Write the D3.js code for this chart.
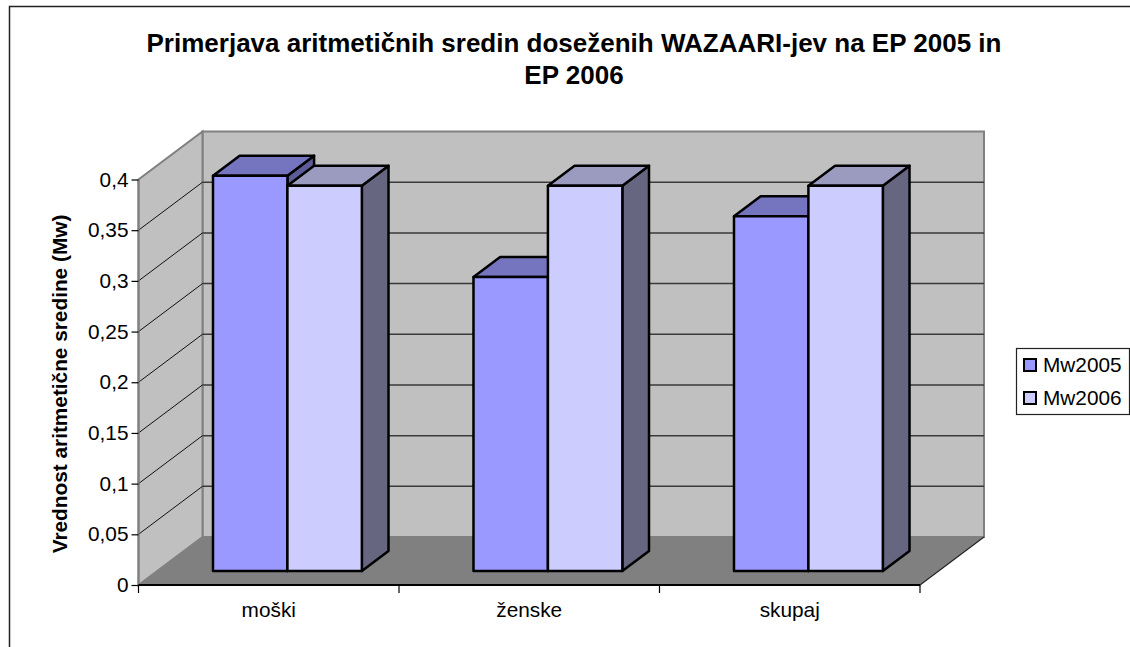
<!DOCTYPE html>
<html>
<head>
<meta charset="utf-8">
<script src="https://cdn.jsdelivr.net/npm/d3@7"></script>
<style>
  html, body { margin: 0; padding: 0; background: #fff; }
  svg { display: block; font-family: "Liberation Sans", Arial, sans-serif; }
</style>
</head>
<body>
<svg id="chart" width="1130" height="647"></svg>
<script>
// ---- data ----
const categories = ["moški", "ženske", "skupaj"];
const seriesNames = ["Mw2005", "Mw2006"];
const mw2005 = [0.39, 0.29, 0.35];
const mw2006 = [0.38, 0.38, 0.38];
const yTicks = [0, 0.05, 0.1, 0.15, 0.2, 0.25, 0.3, 0.35, 0.4];
const yTickLabels = ["0", "0,05", "0,1", "0,15", "0,2", "0,25", "0,3", "0,35", "0,4"];
const titleLines = ["Primerjava aritmetičnih sredin doseženih WAZAARI-jev na EP 2005 in", "EP 2006"];
const yAxisTitle = "Vrednost aritmetične sredine (Mw)";

const seriesValues = [mw2005, mw2006];
const frontColors = ["#9999ff", "#ccccff"];
const topColors = ["#7474bf", "#9b9bc0"];
const sideColors = ["#5c5c99", "#666680"];

const svg = d3.select("#chart");

// outer chart border
svg.append("rect").attr("x", 9.5).attr("y", 6.5).attr("width", 1140).attr("height", 660)
  .attr("fill", "#fff").attr("stroke", "#222").attr("stroke-width", 1.5);

// ---- scales / projection ----
const y = d3.scaleLinear().domain([0, 0.4]).range([585, 179.5]);
const x0 = d3.scaleBand().domain(categories).range([138.5, 920]);
const x1 = d3.scaleBand().domain(seriesNames).range([0, x0.bandwidth()]).paddingInner(0).paddingOuter(0.75);
const DX = 64, DY = 48;
const zFront = 0.2917, zBack = 0.7083;
const P = (px, v, z) => [px + DX * z, y(v) - DY * z];
const poly = pts => pts.map(p => p.join(",")).join(" ");

const xL = x0.range()[0], xR = x0.range()[1];
const vMax = y.domain()[1];

// back wall
svg.append("polygon")
  .attr("points", poly([P(xL, 0, 1), P(xL, vMax, 1), P(xR, vMax, 1), P(xR, 0, 1)]))
  .attr("fill", "#c0c0c0").attr("stroke", "#808080").attr("stroke-width", 2);
// side wall
svg.append("polygon")
  .attr("points", poly([P(xL, 0, 0), P(xL, vMax, 0), P(xL, vMax, 1), P(xL, 0, 1)]))
  .attr("fill", "#c0c0c0").attr("stroke", "#808080").attr("stroke-width", 2);
// floor
svg.append("polygon")
  .attr("points", poly([P(xL, 0, 0), P(xR, 0, 0), P(xR, 0, 1), P(xL, 0, 1)]))
  .attr("fill", "#808080");
svg.append("line")
  .attr("x1", P(xR, 0, 0)[0]).attr("y1", P(xR, 0, 0)[1])
  .attr("x2", P(xR, 0, 1)[0]).attr("y2", P(xR, 0, 1)[1])
  .attr("stroke", "#222").attr("stroke-width", 1.2);

// gridlines
const grid = svg.append("g");
yTicks.filter(t => t > 0 && t < vMax).forEach(t => {
  grid.append("line")
    .attr("x1", P(xL, t, 1)[0]).attr("y1", P(xL, t, 1)[1])
    .attr("x2", P(xR, t, 1)[0]).attr("y2", P(xR, t, 1)[1])
    .attr("stroke", "#3a3a3a").attr("stroke-width", 1.5);
  grid.append("line")
    .attr("x1", P(xL, t, 0)[0]).attr("y1", P(xL, t, 0)[1])
    .attr("x2", P(xL, t, 1)[0]).attr("y2", P(xL, t, 1)[1])
    .attr("stroke", "#111").attr("stroke-width", 1);
});

// ---- bars ----
const bars = svg.append("g").attr("stroke", "#000").attr("stroke-width", 2.5).attr("stroke-linejoin", "round");
categories.forEach((c, ci) => {
  seriesNames.forEach((s, si) => {
    const v = seriesValues[si][ci];
    const a = x0(c) + x1(s), b = a + x1.bandwidth();
    const g = bars.append("g");
    // side face
    g.append("polygon").attr("points", poly([P(b, 0, zFront), P(b, v, zFront), P(b, v, zBack), P(b, 0, zBack)]))
      .attr("fill", sideColors[si]);
    // top face
    g.append("polygon").attr("points", poly([P(a, v, zFront), P(a, v, zBack), P(b, v, zBack), P(b, v, zFront)]))
      .attr("fill", topColors[si]);
    // front face
    g.append("polygon").attr("points", poly([P(a, 0, zFront), P(a, v, zFront), P(b, v, zFront), P(b, 0, zFront)]))
      .attr("fill", frontColors[si]);
  });
});

// ---- axes ----
// value axis line (side wall front edge)
svg.append("line").attr("x1", xL).attr("y1", y(0)).attr("x2", xL).attr("y2", y(vMax))
  .attr("stroke", "#808080").attr("stroke-width", 2);
const yAxis = d3.axisLeft(y).tickValues(yTicks).tickSize(7).tickPadding(3)
  .tickFormat((d, i) => yTickLabels[i]);
const yg = svg.append("g").attr("transform", `translate(${xL},0)`).call(yAxis);
yg.select(".domain").remove();
yg.selectAll(".tick line").attr("stroke", "#000").attr("stroke-width", 1.2);
yg.selectAll(".tick text").attr("font-size", 20.8).attr("fill", "#000")
  .attr("font-family", "'Liberation Sans', Arial, sans-serif");

// category axis
const xAxis = d3.axisBottom(x0).tickSize(0).tickPadding(0);
const xg = svg.append("g").attr("transform", `translate(0,${y(0)})`).call(xAxis);
xg.select(".domain").attr("stroke", "#000").attr("stroke-width", 2).attr("d", `M${xL},0H${xR}`);
xg.selectAll(".tick text").attr("font-size", 20.8).attr("fill", "#000").attr("y", 32).attr("dy", 0)
  .attr("font-family", "'Liberation Sans', Arial, sans-serif");
const catEdges = categories.map(c => x0(c)).concat([xR]);
xg.selectAll(".edge").data(catEdges).join("line").attr("class", "edge")
  .attr("x1", d => d).attr("x2", d => d).attr("y1", 0).attr("y2", 8)
  .attr("stroke", "#000").attr("stroke-width", 1.2);

// y-axis title
svg.append("text").attr("transform", "translate(67,384) rotate(-90)")
  .attr("text-anchor", "middle").attr("font-size", 20.8).attr("font-weight", "bold")
  .text(yAxisTitle);

// chart title
svg.append("g").selectAll("text").data(titleLines).join("text")
  .attr("x", 574).attr("y", (d, i) => 52 + i * 32)
  .attr("text-anchor", "middle").attr("font-size", 26).attr("font-weight", "bold")
  .text(d => d);

// ---- legend ----
const lg = svg.append("g");
lg.append("rect").attr("x", 1016.5).attr("y", 348.5).attr("width", 113).attr("height", 66)
  .attr("fill", "#fff").attr("stroke", "#222").attr("stroke-width", 1.2);
seriesNames.forEach((s, i) => {
  const cy = 365 + i * 33;
  lg.append("rect").attr("x", 1024).attr("y", cy - 6).attr("width", 12).attr("height", 12)
    .attr("fill", frontColors[i]).attr("stroke", "#000").attr("stroke-width", 2);
  lg.append("text").attr("x", 1043).attr("y", cy + 6.5).attr("font-size", 20.8).text(s);
});
</script>
</body>
</html>
